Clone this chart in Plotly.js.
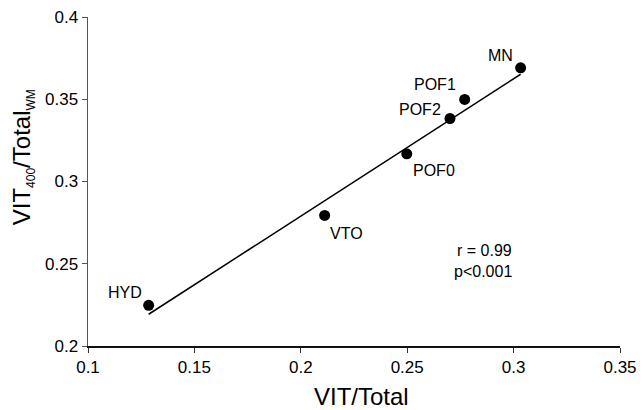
<!DOCTYPE html>
<html><head><meta charset="utf-8">
<script src="https://cdn.plot.ly/plotly-3.0.1.min.js"></script>
<style>html,body{margin:0;padding:0;background:#fff}</style>
</head><body>
<div id="chart" style="width:643px;height:410px"></div>
<script>
const labels = ["HYD","VTO","POF0","POF2","POF1","MN"];
const xVals = [0.1285,0.2112,0.2498,0.2701,0.2770,0.3033];
const yVals = [0.2247,0.2794,0.3168,0.3383,0.3499,0.3691];
const fitX = [0.1285,0.3033];
const fitY = [0.2193,0.3652];
const statsText = ["r = 0.99","p<0.001"];
const xTicks = [0.1,0.15,0.2,0.25,0.3,0.35];
const xTickText = ["0.1","0.15","0.2","0.25","0.3","0.35"];
const yTicks = [0.2,0.25,0.3,0.35,0.4];
const yTickText = ["0.2","0.25","0.3","0.35","0.4"];

// label offsets (pixels) — styling only
const labelShiftX = [-24, 22, 27, -30, -30, -20];
const labelShiftY = [13, -18, -17, 9, 15, 12];

const FONT = "Liberation Sans, Arial, sans-serif";
const traces = [
  {x: fitX, y: fitY, mode: "lines", type: "scatter",
   line: {color: "#000", width: 1.5}, hoverinfo: "skip"},
  {x: xVals, y: yVals, mode: "markers", type: "scatter",
   marker: {color: "#000", size: 11}}
];
const annotations = labels.map((t, i) => ({
  x: xVals[i], y: yVals[i], xref: "x", yref: "y", text: t, showarrow: false,
  xshift: labelShiftX[i], yshift: labelShiftY[i], font: {size: 16, family: FONT, color: "#000"}
}));
annotations.push(
  {x: 0.2861, y: 0.2583, xref: "x", yref: "y", text: statsText[0], showarrow: false,
   font: {size: 16, family: FONT, color: "#000"}},
  {x: 0.2857, y: 0.2450, xref: "x", yref: "y", text: statsText[1], showarrow: false,
   font: {size: 16, family: FONT, color: "#000"}},
  {x: 0.5145, y: -0.155, xref: "paper", yref: "paper", text: "VIT/Total", showarrow: false,
   xanchor: "center", yanchor: "middle", font: {size: 24, family: FONT, color: "#000"}},
  {x: -0.122, y: 0.574, xref: "paper", yref: "paper", textangle: -90, showarrow: false,
   text: 'VIT<sub><span style="font-size:12px">400</span></sub>/Total<sub><span style="font-size:12px">WM</span></sub>',
   xanchor: "center", yanchor: "middle", font: {size: 24, family: FONT, color: "#000"}}
);
const layout = {
  width: 643, height: 410,
  margin: {l: 88, r: 23, t: 17, b: 64},
  showlegend: false,
  paper_bgcolor: "#fff", plot_bgcolor: "#fff",
  font: {family: FONT, color: "#000"},
  xaxis: {range: [0.1, 0.35], tickvals: xTicks, ticktext: xTickText,
    showgrid: false, zeroline: false, showline: true, linecolor: "#111", linewidth: 1.5,
    ticks: "outside", ticklen: 5, tickcolor: "#333", tickfont: {size: 17}},
  yaxis: {range: [0.2, 0.4], tickvals: yTicks, ticktext: yTickText,
    showgrid: false, zeroline: false, showline: true, linecolor: "#555", linewidth: 1.5,
    ticks: "outside", ticklen: 5, tickcolor: "#555", tickfont: {size: 17}},
  annotations: annotations
};
Plotly.newPlot("chart", traces, layout, {displayModeBar: false, staticPlot: true});
</script>
</body></html>
